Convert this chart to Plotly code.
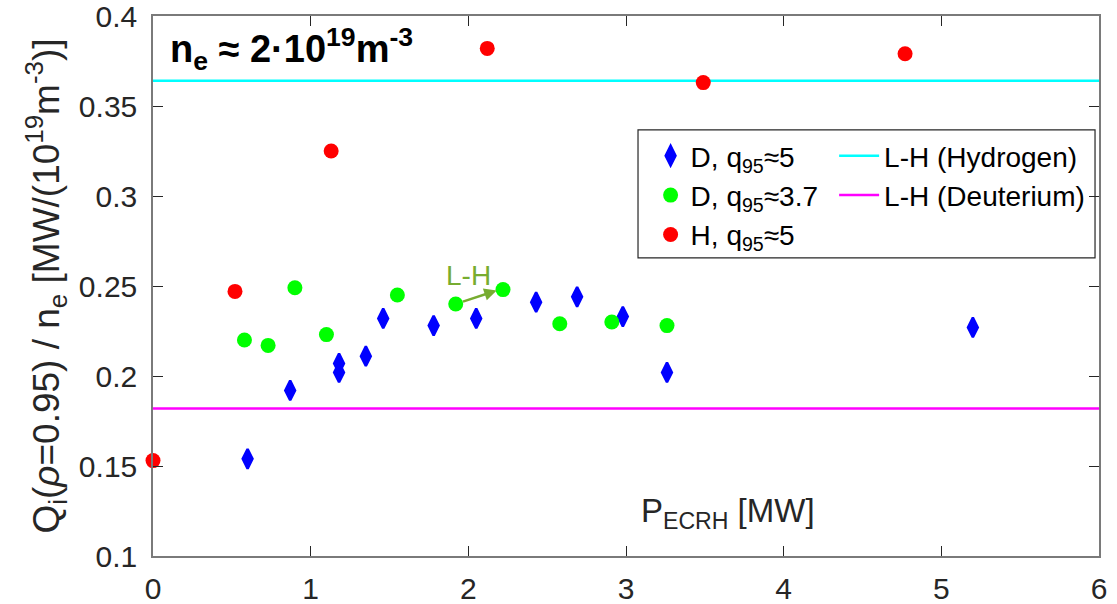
import plotly.graph_objects as go

# ---- data ----
d5_x = [0.60, 0.87, 1.18, 1.18, 1.35, 1.46, 1.78, 2.05, 2.43, 2.69, 2.98, 3.26, 5.20]
d5_y = [0.154, 0.192, 0.207, 0.202, 0.211, 0.232, 0.228, 0.232, 0.241, 0.244, 0.233, 0.202, 0.227]

d37_x = [0.58, 0.73, 0.90, 1.10, 1.55, 1.92, 2.22, 2.58, 2.91, 3.26]
d37_y = [0.220, 0.217, 0.249, 0.223, 0.245, 0.240, 0.248, 0.229, 0.230, 0.228]

h5_x = [0.00, 0.52, 1.13, 2.12, 3.49, 4.77]
h5_y = [0.153, 0.247, 0.325, 0.382, 0.363, 0.379]

x_limits = [0, 6]
y_limits = [0.1, 0.4]
lh_hydrogen = 0.364
lh_deuterium = 0.182

lh_arrow_start = (1.92, 0.240)
lh_arrow_end = (2.18, 0.2475)

x_ticks = [0, 1, 2, 3, 4, 5, 6]
y_ticks = [0.1, 0.15, 0.2, 0.25, 0.3, 0.35, 0.4]
y_ticklabels = ["0.1", "0.15", "0.2", "0.25", "0.3", "0.35", "0.4"]

FONT = "Liberation Sans, Arial, Helvetica, sans-serif"
AXC = "#7a7a7a"
TXT = "#262626"

fig = go.Figure()

# reference lines (drawn first, below markers)
fig.add_trace(go.Scatter(
    x=x_limits, y=[lh_hydrogen, lh_hydrogen], mode="lines", name="L-H (Hydrogen)",
    line=dict(color="#00FFFF", width=2.5), legend="legend2"))
fig.add_trace(go.Scatter(
    x=x_limits, y=[lh_deuterium, lh_deuterium], mode="lines", name="L-H (Deuterium)",
    line=dict(color="#FF00FF", width=2.5), legend="legend2"))

fig.add_trace(go.Scatter(
    x=d5_x, y=d5_y, mode="markers", name="D, q<sub>95</sub>≈5",
    marker=dict(symbol="diamond-tall", size=14, color="#0000FF",
                line=dict(color="#0000FF", width=2.5)),
    legend="legend"))
fig.add_trace(go.Scatter(
    x=d37_x, y=d37_y, mode="markers", name="D, q<sub>95</sub>≈3.7",
    marker=dict(symbol="circle", size=15, color="#00FF00"),
    legend="legend"))
fig.add_trace(go.Scatter(
    x=h5_x, y=h5_y, mode="markers", name="H, q<sub>95</sub>≈5",
    marker=dict(symbol="circle", size=15, color="#FF0000"),
    legend="legend", cliponaxis=False))

axis_common = dict(
    showgrid=False, zeroline=False, showline=True, linecolor=AXC, linewidth=1.5,
    mirror="ticks", ticks="inside", ticklen=10, tickwidth=1, tickcolor=TXT,
    tickfont=dict(family=FONT, size=30, color=TXT), automargin=False,
    ticklabeloverflow="allow",
)

fig.update_xaxes(range=x_limits, tickvals=x_ticks, ticklabelstandoff=5, **axis_common)
fig.update_yaxes(range=y_limits, tickvals=y_ticks, ticktext=y_ticklabels, ticklabelstandoff=8,
                 title=dict(text="Q<sub>i</sub>(<i>ρ</i>=0.95) / n<sub>e</sub> [MW/(10<sup>19</sup>m<sup>-3</sup>)]",
                            font=dict(family=FONT, size=37, color=TXT), standoff=8),
                 **axis_common)

# title-like annotation inside the plot
fig.add_annotation(xref="paper", yref="paper", x=0.016, y=0.993, xanchor="left", yanchor="top",
                   text="<b>n<sub>e</sub> ≈ 2·10<sup>19</sup>m<sup>-3</sup></b>",
                   showarrow=False, font=dict(family=FONT, size=38, color="#000000"))

# x label inside plot
fig.add_annotation(xref="x", yref="paper", x=3.65, y=0.08, xanchor="center", yanchor="middle",
                   text="P<sub>ECRH</sub> [MW]", showarrow=False,
                   font=dict(family=FONT, size=33, color=TXT))

# L-H arrow
fig.add_annotation(x=lh_arrow_end[0], y=lh_arrow_end[1], ax=lh_arrow_start[0], ay=lh_arrow_start[1],
                   xref="x", yref="y", axref="x", ayref="y", text="", showarrow=True,
                   arrowhead=2, arrowsize=1, arrowwidth=2.5, arrowcolor="#77AC30", startstandoff=6)
fig.add_annotation(x=2.0, y=0.2561, xref="x", yref="y", text="L-H", showarrow=False,
                   font=dict(family=FONT, size=28, color="#77AC30"))

# legend box
fig.add_shape(type="rect", xref="paper", yref="paper", x0=0.5127, x1=0.9958, y0=0.552, y1=0.789,
              line=dict(color="#262626", width=1.2), fillcolor="white", layer="below")

fig.update_layout(
    width=1117, height=604,
    margin=dict(l=153, r=18, t=16, b=48),
    paper_bgcolor="white", plot_bgcolor="white",
    font=dict(family=FONT, color="#000000"),
    showlegend=True,
    legend=dict(x=0.526, y=0.787, xanchor="left", yanchor="top", bgcolor="rgba(0,0,0,0)",
                borderwidth=0, font=dict(family=FONT, size=28, color="#000000"),
                tracegroupgap=0, itemwidth=30),
    legend2=dict(x=0.72, y=0.787, xanchor="left", yanchor="top", bgcolor="rgba(0,0,0,0)",
                 borderwidth=0, font=dict(family=FONT, size=28, color="#000000"),
                 tracegroupgap=0, itemwidth=40),
)

fig.write_html("out.html")
